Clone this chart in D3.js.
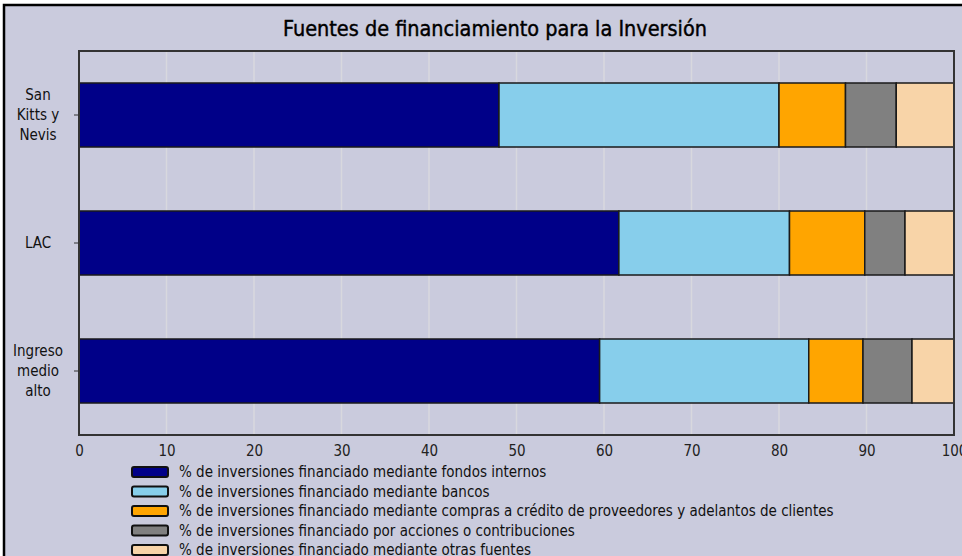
<!DOCTYPE html>
<html><head><meta charset="utf-8">
<script src="https://cdn.jsdelivr.net/npm/d3@7"></script>
<style>html,body{margin:0;padding:0;background:#fff;}svg{display:block;}</style>
</head><body>
<script>
const title = "Fuentes de financiamiento para la Inversión";
const categories = ["San Kitts y Nevis", "LAC", "Ingreso medio alto"];
const categoryLines = [["San", "Kitts y", "Nevis"], ["LAC"], ["Ingreso", "medio", "alto"]];
const seriesNames = [
  "% de inversiones financiado mediante fondos internos",
  "% de inversiones financiado mediante bancos",
  "% de inversiones financiado mediante compras a crédito de proveedores y adelantos de clientes",
  "% de inversiones financiado por acciones o contribuciones",
  "% de inversiones financiado mediante otras fuentes"
];
const fondosInternos = [48.0, 61.7, 59.5];
const bancos = [32.0, 19.5, 23.9];
const creditoProveedores = [7.6, 8.6, 6.2];
const acciones = [5.8, 4.6, 5.6];
const otras = [6.6, 5.6, 4.8];
const xTicks = [0, 10, 20, 30, 40, 50, 60, 70, 80, 90, 100];
const colors = ["#000088", "#87CEEB", "#FFA500", "#808080", "#F8D4A8"];

const W = 962, H = 556;
const font = "'DejaVu Sans Condensed','Liberation Sans',sans-serif";
const svg = d3.select("body").append("svg").attr("width", W).attr("height", H);

// outer frame
svg.append("rect").attr("x", 4).attr("y", 5).attr("width", 1000).attr("height", 600)
  .attr("fill", "#CACBDD").attr("stroke", "#000").attr("stroke-width", 2.5);

svg.append("text").attr("x", 495).attr("y", 36).attr("text-anchor", "middle")
  .attr("font-family", font).attr("font-size", 21).attr("fill", "#000")
  .attr("stroke", "#000").attr("stroke-width", 0.4)
  .attr("textLength", 424).attr("lengthAdjust", "spacingAndGlyphs")
  .text(title);

const plot = {l: 79, r: 954, t: 51, b: 435};
const x = d3.scaleLinear().domain([0, 100]).range([plot.l, plot.r]);
const y = d3.scaleBand().domain(categories).range([plot.t, plot.b]).paddingInner(0.5).paddingOuter(0.25);

// gridlines
svg.append("g").selectAll("line").data(xTicks.slice(1, -1)).join("line")
  .attr("x1", d => x(d)).attr("x2", d => x(d)).attr("y1", plot.t).attr("y2", plot.b)
  .attr("stroke", "#D8D8DE").attr("stroke-width", 1.5);

// stacked bars
const table = categories.map((c, i) => ({cat: c, s0: fondosInternos[i], s1: bancos[i], s2: creditoProveedores[i], s3: acciones[i], s4: otras[i]}));
const stack = d3.stack().keys(["s0", "s1", "s2", "s3", "s4"])(table);
svg.append("g").selectAll("g").data(stack).join("g")
  .attr("fill", (d, i) => colors[i])
  .selectAll("rect").data(d => d).join("rect")
  .attr("x", d => x(d[0])).attr("width", d => x(d[1]) - x(d[0]))
  .attr("y", d => y(d.data.cat)).attr("height", y.bandwidth())
  .attr("stroke", "#1a1a1a").attr("stroke-width", 1.5);

// plot frame
svg.append("rect").attr("x", plot.l).attr("y", plot.t).attr("width", plot.r - plot.l).attr("height", plot.b - plot.t)
  .attr("fill", "none").attr("stroke", "#333").attr("stroke-width", 2);

// x axis labels
const xa = svg.append("g").attr("transform", `translate(0,${plot.b})`)
  .attr("font-size", null).attr("font-family", null)
  .call(d3.axisBottom(x).tickValues(xTicks).tickSize(0).tickPadding(10).tickFormat(d3.format("d")));
xa.attr("font-size", 15).attr("font-family", font);
xa.select(".domain").remove();
xa.selectAll("text").style("font-size", "15px").style("font-family", font).attr("fill", "#222");

// y axis
const ya = svg.append("g").attr("transform", `translate(${plot.l},0)`)
  .call(d3.axisLeft(y).tickSize(5).tickFormat(""));
ya.select(".domain").remove();
ya.selectAll("line").attr("stroke", "#333");
categories.forEach((c, i) => {
  const lines = categoryLines[i];
  const cy = y(c) + y.bandwidth() / 2;
  const t = svg.append("text").attr("x", 38).attr("text-anchor", "middle")
    .attr("font-family", font).attr("font-size", 15).attr("fill", "#111");
  lines.forEach((ln, j) => {
    t.append("tspan").attr("x", 38).attr("y", cy + (j - (lines.length - 1) / 2) * 20 + 5).text(ln);
  });
});

// legend
const lg = svg.append("g");
seriesNames.forEach((s, i) => {
  const ly = 472 + i * 19.5;
  lg.append("rect").attr("x", 132).attr("y", ly - 5).attr("width", 36).attr("height", 10).attr("rx", 2)
    .attr("fill", colors[i]).attr("stroke", "#111").attr("stroke-width", 2);
  lg.append("text").attr("x", 179).attr("y", ly + 5).attr("font-family", font).attr("font-size", 15)
    .attr("fill", "#111").text(s);
});
</script>
</body></html>
